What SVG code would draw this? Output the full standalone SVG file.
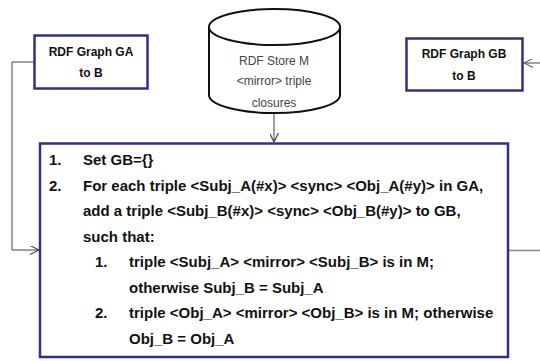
<svg xmlns="http://www.w3.org/2000/svg" width="540" height="361" viewBox="0 0 540 361">
  <defs>
    <marker id="arrow" viewBox="0 0 10 10" refX="10" refY="5" markerWidth="9" markerHeight="9" markerUnits="userSpaceOnUse" orient="auto">
      <path d="M0,0 L10,5 L0,10" fill="none" stroke="#333" stroke-width="1.2"/>
    </marker>
    <marker id="arrow-gray" viewBox="0 0 10 10" refX="10" refY="5" markerWidth="9" markerHeight="9" markerUnits="userSpaceOnUse" orient="auto">
      <path d="M0,0 L10,5 L0,10" fill="none" stroke="#555" stroke-width="1.2"/>
    </marker>
    <style>
      .box { fill: #fff; stroke: #2e3089; stroke-width: 2.5; }
      .lbl { font-family: "Liberation Sans", Arial, sans-serif; font-size: 12px; font-weight: bold; fill: #111; text-anchor: middle; }
      .store { font-family: "Liberation Sans", Arial, sans-serif; font-size: 12px; fill: #444; text-anchor: middle; }
      .cyl { fill: #fff; stroke: #111; stroke-width: 2; }
      .step { font-family: "Liberation Sans", Arial, sans-serif; font-size: 15px; font-weight: bold; fill: #111; }
      .link { fill: none; stroke: #444; stroke-width: 1; }
      .link-gray { fill: none; stroke: #888; stroke-width: 1.3; }
    </style>
  </defs>

  <rect width="540" height="361" fill="#fff"/>

  <!-- connectors -->
  <g id="connectors">
    <path class="link" d="M34,62 H12 V250 H39" marker-end="url(#arrow)"/>
    <path class="link" d="M274,113 V142" marker-end="url(#arrow)"/>
    <path class="link-gray" d="M509,250.5 H545"/>
    <path class="link" d="M545,63 H524" marker-end="url(#arrow-gray)"/>
  </g>

  <!-- source graph -->
  <g id="graph-ga">
    <rect class="box" x="34.5" y="35.5" width="113" height="53"/>
    <text class="lbl" x="91" y="56">RDF Graph GA</text>
    <text class="lbl" x="91" y="77">to B</text>
  </g>

  <!-- mirror store -->
  <g id="store-m">
    <path class="cyl" d="M209,27 V95 A65.5,18 0 0 0 340,95 V27"/>
    <ellipse class="cyl" cx="274.5" cy="27" rx="65.5" ry="18"/>
    <text class="store" x="274" y="65">RDF Store M</text>
    <text class="store" x="274" y="85">&lt;mirror&gt; triple</text>
    <text class="store" x="274" y="107">closures</text>
  </g>

  <!-- target graph -->
  <g id="graph-gb">
    <rect class="box" x="406.5" y="38.5" width="116" height="52"/>
    <text class="lbl" x="464" y="58">RDF Graph GB</text>
    <text class="lbl" x="464" y="80">to B</text>
  </g>

  <!-- synchronisation procedure -->
  <g id="procedure">
    <rect class="box" x="40" y="143.5" width="468" height="213.5"/>
    <text class="step" x="49" y="165">1.</text>
    <text class="step" x="83" y="165">Set GB={}</text>
    <text class="step" x="49" y="190.5">2.</text>
    <text class="step" x="83" y="190.5">For each triple &lt;Subj_A(#x)&gt; &lt;sync&gt; &lt;Obj_A(#y)&gt; in GA,</text>
    <text class="step" x="83" y="216">add a triple &lt;Subj_B(#x)&gt; &lt;sync&gt; &lt;Obj_B(#y)&gt; to GB,</text>
    <text class="step" x="83" y="241.5">such that:</text>
    <text class="step" x="95" y="267">1.</text>
    <text class="step" x="129" y="267">triple &lt;Subj_A&gt; &lt;mirror&gt; &lt;Subj_B&gt; is in M;</text>
    <text class="step" x="129" y="292.5">otherwise Subj_B = Subj_A</text>
    <text class="step" x="95" y="318">2.</text>
    <text class="step" x="129" y="318">triple &lt;Obj_A&gt; &lt;mirror&gt; &lt;Obj_B&gt; is in M; otherwise</text>
    <text class="step" x="129" y="343.5">Obj_B = Obj_A</text>
  </g>
</svg>
